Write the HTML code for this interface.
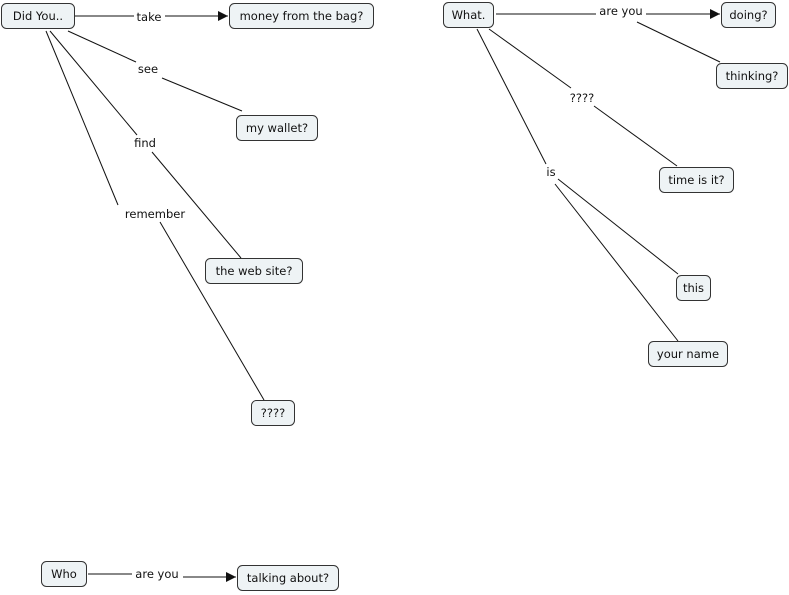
<!DOCTYPE html>
<html><head><meta charset="utf-8"><style>
html,body{margin:0;padding:0;background:#fff;width:789px;height:595px;overflow:hidden}
text{font-family:"DejaVu Sans","Liberation Sans",sans-serif;font-size:11.5px;fill:#111}
rect{fill:#eef3f5;stroke:#333;stroke-width:1}
line{stroke:#111;stroke-width:1}
</style></head><body>
<svg width="789" height="595" viewBox="0 0 789 595" xmlns="http://www.w3.org/2000/svg">
<defs><marker id="a" markerWidth="10" markerHeight="10" refX="10" refY="5" orient="auto" markerUnits="userSpaceOnUse"><path d="M0,0 L10,5 L0,10 z" fill="#111"/></marker></defs>
<!-- lines -->
<line x1="75" y1="16" x2="134" y2="16"/><line x1="165" y1="16" x2="228" y2="16" marker-end="url(#a)"/>
<line x1="68" y1="31" x2="136" y2="62"/><line x1="162" y1="78" x2="242" y2="111"/>
<line x1="50" y1="31" x2="137" y2="135"/><line x1="152" y1="152" x2="241" y2="258"/>
<line x1="46" y1="31" x2="118" y2="205"/><line x1="160" y1="222" x2="264" y2="400"/>
<line x1="496" y1="14" x2="596" y2="14"/><line x1="646" y1="14" x2="720" y2="14" marker-end="url(#a)"/>
<line x1="637" y1="22" x2="720" y2="62"/>
<line x1="489" y1="29" x2="571" y2="88"/><line x1="594" y1="106" x2="677" y2="166"/>
<line x1="477" y1="29" x2="546" y2="164"/>
<line x1="558" y1="179" x2="678" y2="274"/><line x1="555" y1="184" x2="678" y2="341"/>
<line x1="88" y1="574" x2="132" y2="574"/><line x1="183" y1="577" x2="236" y2="577" marker-end="url(#a)"/>
<!-- nodes -->
<rect x="1.5" y="3.5" width="73" height="25" rx="5"/><text x="38" y="20" text-anchor="middle">Did You..</text>
<rect x="229.5" y="3.5" width="144" height="25" rx="5"/><text x="301.5" y="20" text-anchor="middle">money from the bag?</text>
<rect x="236.5" y="115.5" width="81" height="25" rx="5"/><text x="277" y="132" text-anchor="middle">my wallet?</text>
<rect x="205.5" y="258.5" width="97" height="25" rx="5"/><text x="254" y="275" text-anchor="middle">the web site?</text>
<rect x="251.5" y="400.5" width="43" height="25" rx="5"/><text x="273" y="417" text-anchor="middle">????</text>
<rect x="443.5" y="2.5" width="50" height="25" rx="5"/><text x="468.5" y="19" text-anchor="middle">What.</text>
<rect x="721.5" y="2.5" width="54" height="25" rx="5"/><text x="748.5" y="19" text-anchor="middle">doing?</text>
<rect x="716.5" y="63.5" width="71" height="25" rx="5"/><text x="752" y="80" text-anchor="middle">thinking?</text>
<rect x="659.5" y="167.5" width="74" height="25" rx="5"/><text x="696.5" y="184" text-anchor="middle">time is it?</text>
<rect x="676.5" y="275.5" width="34" height="25" rx="5"/><text x="693.5" y="292" text-anchor="middle">this</text>
<rect x="648.5" y="341.5" width="79" height="25" rx="5"/><text x="688" y="358" text-anchor="middle">your name</text>
<rect x="41.5" y="561.5" width="45" height="25" rx="5"/><text x="64" y="578" text-anchor="middle">Who</text>
<rect x="237.5" y="565.5" width="101" height="25" rx="5"/><text x="288" y="582" text-anchor="middle">talking about?</text>
<!-- labels -->
<text x="149" y="21" text-anchor="middle">take</text>
<text x="148" y="73" text-anchor="middle">see</text>
<text x="145" y="147" text-anchor="middle">find</text>
<text x="155" y="218" text-anchor="middle">remember</text>
<text x="621" y="15" text-anchor="middle">are you</text>
<text x="582" y="102" text-anchor="middle">????</text>
<text x="551" y="176" text-anchor="middle">is</text>
<text x="157" y="578" text-anchor="middle">are you</text>
</svg>
</body></html>
